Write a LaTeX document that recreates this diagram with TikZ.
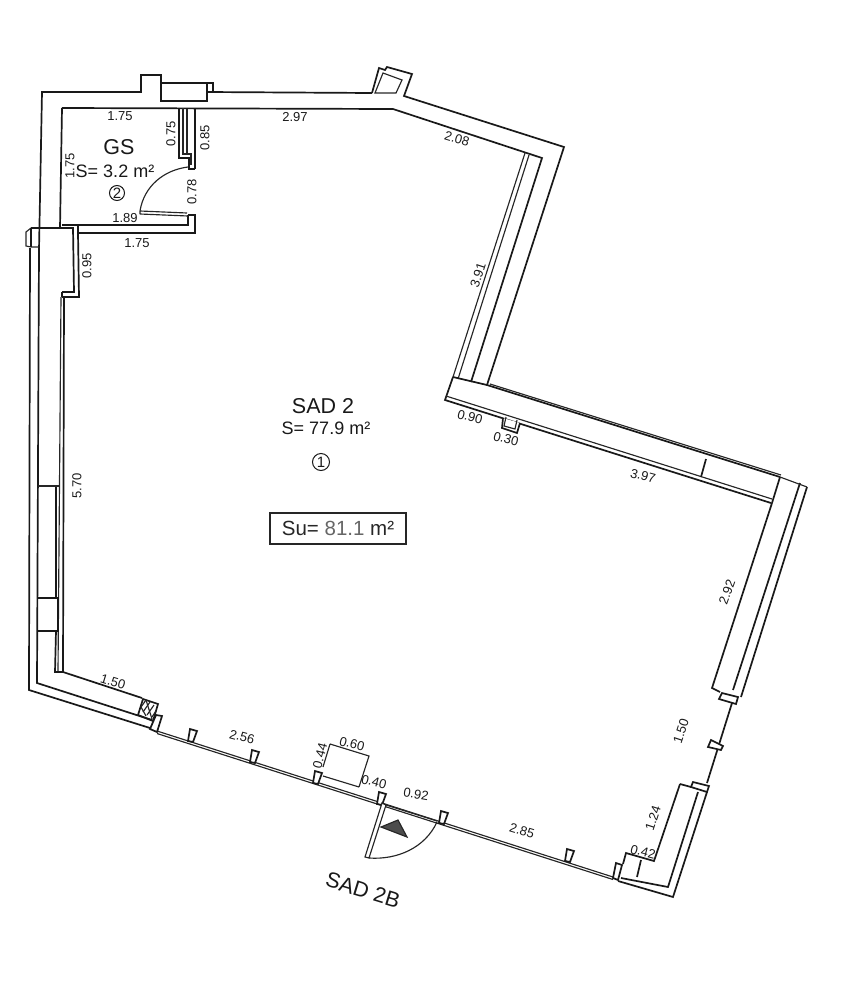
\documentclass[tikz,border=0pt]{standalone}
\usepackage{fontspec}
\setmainfont{Liberation Sans}
\usepackage{tikz}
\tikzset{
  wall/.style={line width=1.7pt,line join=miter,black!90},
  thinwall/.style={line width=1.15pt,black!85},
  dim/.style={font=\fontsize{13}{14}\selectfont,inner sep=0pt,black!90},
  roomname/.style={font=\fontsize{21.5}{24}\selectfont,inner sep=0pt,black!90},
  roomarea/.style={font=\fontsize{18}{20}\selectfont,inner sep=0pt,black!90},
  roomno/.style={draw,circle,line width=1pt,minimum size=16pt,inner sep=0pt,font=\fontsize{15}{15}\selectfont,black!90}
}
\begin{document}
\begin{tikzpicture}[x=1pt,y=-1pt]
\useasboundingbox (0,0) rectangle (847,999);

% outer outline, top
\draw[wall] (39,250) -- (42,92) -- (141,92) -- (141,75) -- (161,75) -- (161,101) -- (207,101) -- (207,84);
\draw[wall] (161,83) -- (213,83) -- (213,92);
\draw[wall] (207,92) -- (372,93);
\draw[wall] (372,93) -- (379,68) -- (385,70) -- (387,67) -- (412,74) -- (404,96) -- (564,147) -- (487,385) -- (780,477);
\draw[thinwall] (375,93) -- (383,73) -- (402,80) -- (396,93) -- cycle;
\draw[thinwall] (490,384) -- (781,475);

% inner outline, top
\draw[wall] (62,108) -- (393,109) -- (542,158) -- (471,382);
\draw[thinwall] (525,153) -- (453,377);
\draw[thinwall] (529,155) -- (458,379);
\draw[wall] (453,377) -- (487,385);
\draw[wall] (453,377) -- (445,400) -- (771,503);
\draw[thinwall] (446,396) -- (772,499);
\draw[wall] (706,459) -- (701,477);
\draw[wall,fill=white] (503,418) -- (502,428) -- (517,433) -- (520,423);
\draw[thinwall] (506,417) -- (504,426) -- (515,429) -- (517,420);

% small room
\draw[wall] (62,108) -- (60,228);
\draw[wall] (62,225) -- (188,225) -- (188,215);
\draw[wall] (78,225) -- (78,233) -- (195,233) -- (195,215) -- (188,215);
\draw[wall] (195,169) -- (195,108);
\draw[wall] (179,108) -- (179,158) -- (189,158) -- (189,169) -- (195,169);
\draw[thinwall] (183,108) -- (183,154) -- (191,154) -- (191,165);
\draw[thinwall] (187,109) -- (187,154);
\draw[thinwall] (140,211) -- (187,213) (140,214) -- (188,216) (140,211) -- (140,214);
\draw[thinwall] (140,211) .. controls (144,186) and (164,170) .. (188,167);
\draw[wall] (31,228) -- (62,228);
\draw[thinwall] (31,228) -- (26,232) -- (26,246) -- (31,247) -- (39,247);
\draw[wall] (31,228) -- (31,247);
\draw[wall] (61,228) -- (73,228) -- (74,292) -- (62,292);
\draw[wall] (78,233) -- (79,297) -- (62,297);

% left wall
\draw[wall] (39,250) -- (37,683) -- (152,720);
\draw[wall] (30,248) -- (29,690) -- (150,728);
\draw[wall] (62,297) -- (62,292);
\draw[wall] (64,297) -- (63,672) -- (142,698);
\draw[thinwall] (61,297) -- (58,672);
\draw[wall] (56,486) -- (56,598);
\draw[wall] (56,631) -- (55,672) -- (63,672);
\draw[thinwall] (38,486) -- (60,486);
\draw[wall] (38,598) -- (58,598) -- (58,631) -- (38,631);

% hatched post
\draw[wall] (143,699) -- (158,704) -- (153,721) -- (138,715) -- cycle;
\draw[thinwall] (141,707) -- (146,700) (143,712) -- (150,702) (147,715) -- (154,705) (152,717) -- (156,711);
\draw[thinwall] (146,700) -- (152,719) (141,707) -- (146,716);

% window line, bottom
\draw[thinwall] (157,731) -- (613,877);
\draw[thinwall] (157,733.5) -- (613,879.5);
\foreach \px/\py in {192/736,254/757,317/778,381/799,443/818,569/856}
  \draw[wall,fill=white] (\px-2,\py-7) -- (\px+5,\py-5) -- (\px+1,\py+6) -- (\px-4,\py+5) -- cycle;
\draw[wall,fill=white] (156,715) -- (162,716) -- (157,732) -- (150,729) -- cycle;
\draw[wall,fill=white] (616,863) -- (622,865) -- (618,880) -- (613,878) -- cycle;

% bottom right corner
\draw[wall] (680,784) -- (691,787);
\draw[wall] (680,784) -- (654,861) -- (626,853) -- (623,864);
\draw[wall] (621,878) -- (668,887) -- (698,792);
\draw[wall] (618,881) -- (673,897) -- (707,792);
\draw[wall] (641,860) -- (637,877);
\draw[wall,fill=white] (693,782) -- (709,786) -- (707,792) -- (691,787) -- cycle;

% right wall
\draw[wall] (780,477) -- (772,503) -- (712,688) -- (720,692);
\draw[wall] (800,483) -- (733,690);
\draw[wall] (807,487) -- (741,697);
\draw[thinwall] (780,477) -- (807,487);
\draw[wall,fill=white] (722,693) -- (738,697) -- (736,704) -- (719,699) -- cycle;
\draw[wall] (732,703) -- (707,783);
\draw[wall,fill=white] (711,740) -- (723,746) -- (721,750) -- (708,747) -- cycle;

% door and niche
\draw[thinwall] (330,744) -- (369,756) -- (359,787) (330,744) -- (323,767) (323,776) -- (359,787);
\draw[thinwall,fill=white] (382,803) -- (386,805) -- (369,858) -- (365,857) -- cycle;
\draw[thinwall] (369,858) .. controls (397,860) and (425,848) .. (437,822);
\draw[thinwall] (386,805) -- (437,821);
\draw[thinwall,fill=black!70] (381,827) -- (398,820) -- (407,837) -- cycle;

% texts
\node[dim] (dimA) at (120,116) {1.75};
\node[dim,rotate=90] (dimB) at (70,166) {1.75};
\node[dim,rotate=90] (dimC) at (171,134) {0.75};
\node[dim,rotate=90] (dimD) at (205,138) {0.85};
\node[dim,rotate=90] (dimE) at (192,192) {0.78};
\node[dim] (dimF) at (125,218) {1.89};
\node[dim] (dimG) at (137,243) {1.75};
\node[dim,rotate=90] (dimH) at (87,266) {0.95};
\node[dim] (dimI) at (295,117) {2.97};
\node[dim,rotate=-17] (dimJ) at (457,139) {2.08};
\node[dim,rotate=72] (dimK) at (478,275) {3.91};
\node[dim,rotate=-15] (dimL) at (470,417) {0.90};
\node[dim,rotate=-15] (dimM) at (506,439) {0.30};
\node[dim,rotate=-15] (dimN) at (643,476) {3.97};
\node[dim,rotate=70] (dimO) at (727,592) {2.92};
\node[dim,rotate=72] (dimP) at (681,731) {1.50};
\node[dim,rotate=72] (dimQ) at (653,818) {1.24};
\node[dim,rotate=-15] (dimR) at (643,852) {0.42};
\node[dim,rotate=-17] (dimS) at (522,831) {2.85};
\node[dim,rotate=-10] (dimT) at (416,794) {0.92};
\node[dim,rotate=-15] (dimU) at (374,782) {0.40};
\node[dim,rotate=-15] (dimV) at (352,744) {0.60};
\node[dim,rotate=75] (dimW) at (320,756) {0.44};
\node[dim,rotate=-15] (dimX) at (242,737) {2.56};
\node[dim,rotate=-17] (dimY) at (113,682) {1.50};
\node[dim,rotate=90] (dimZ) at (77,486) {5.70};

\node[roomname] (gsname) at (119,147) {GS};
\node[roomarea] (gsarea) at (115,171) {S= 3.2 m²};
\node[roomno,minimum size=15pt] (gsno) at (117,193) {2};
\node[roomname] (sadname) at (323,406) {SAD 2};
\node[roomarea] (sadarea) at (326,428) {S= 77.9 m²};
\node[roomno,minimum size=17pt] (sadno) at (321,462) {1};
\node[draw,thinwall,minimum width=136pt,minimum height=31pt,inner sep=0pt,font=\fontsize{20.5}{22}\selectfont] (subox) at (338,528.5) {Su= \textcolor{black!60}{81.1} m²};
\node[roomname,rotate=-17] (doorname) at (363,890) {SAD 2B};
\end{tikzpicture}
\end{document}
